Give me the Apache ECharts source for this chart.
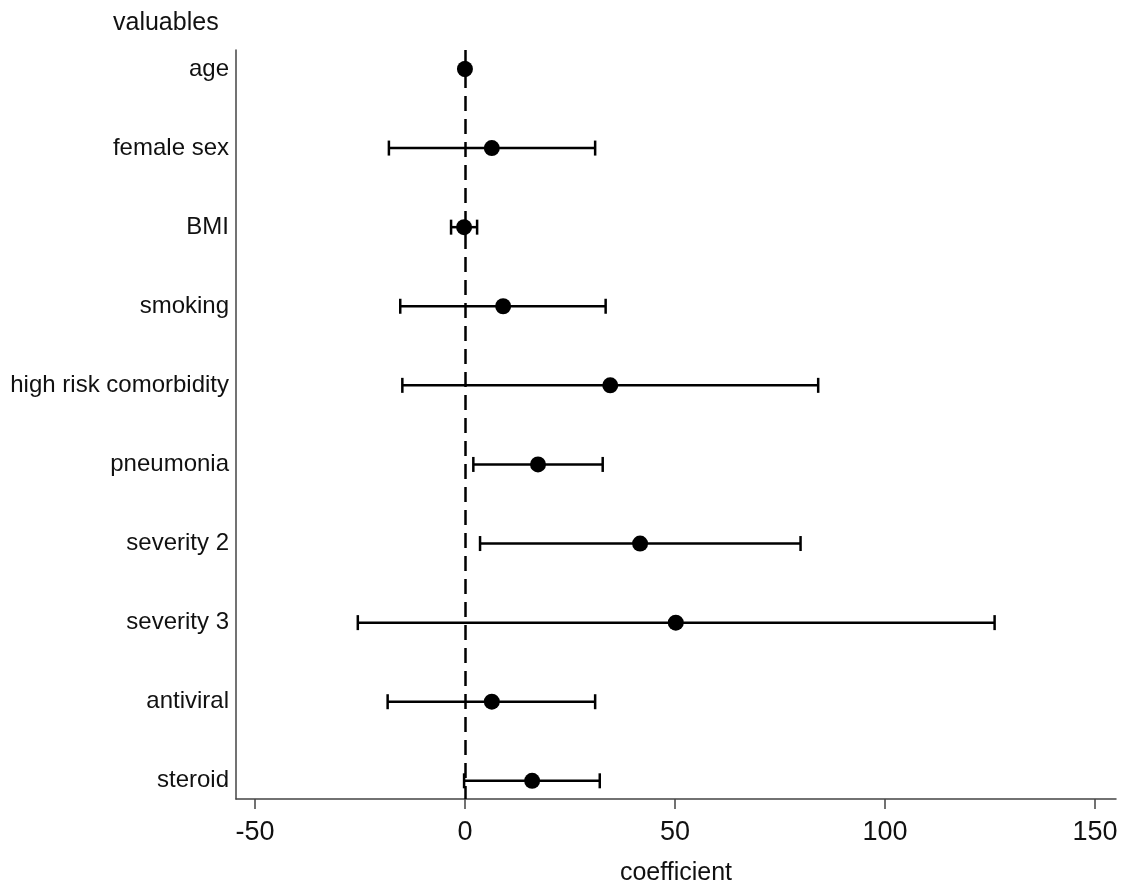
<!DOCTYPE html>
<html>
<head>
<meta charset="utf-8">
<script src="https://cdn.jsdelivr.net/npm/echarts@6/dist/echarts.min.js"></script>
<style>html,body{margin:0;padding:0;background:#fff}#chart{width:1130px;height:891px}</style>
</head>
<body>
<div id="chart"></div>
<script>
const categories = ['age','female sex','BMI','smoking','high risk comorbidity','pneumonia','severity 2','severity 3','antiviral','steroid'];
const coef  = [0.0, 6.4, -0.2, 9.1, 34.6, 17.4, 41.7, 50.2, 6.4, 16.0];
const lower = [-0.3, -18.1, -3.3, -15.4, -14.9, 2.0, 3.6, -25.5, -18.4, -0.2];
const upper = [0.3, 31.0, 2.9, 33.5, 84.1, 32.8, 79.9, 126.1, 31.0, 32.1];
const xTicks = [-50, 0, 50, 100, 150];

const FONT = '"Liberation Sans", Arial, Helvetica, sans-serif';
const chart = echarts.init(document.getElementById('chart'));

const ciData = categories.map((c, i) => [lower[i], upper[i], i + 1]);
const ptData = categories.map((c, i) => [coef[i], i + 1]);

chart.setOption({
  animation: false,
  backgroundColor: '#fff',
  textStyle: { fontFamily: FONT },
  title: {
    text: 'valuables',
    left: 108, top: 6,
    textStyle: { fontSize: 25, fontWeight: 'normal', color: '#111', fontFamily: FONT }
  },
  grid: { left: 236, right: 14, top: 50, bottom: 91, containLabel: false },
  xAxis: {
    type: 'value',
    min: -54.5, max: 155,
    name: 'coefficient',
    nameLocation: 'middle',
    nameGap: 62,
    nameTextStyle: { fontSize: 25, color: '#111', fontFamily: FONT },
    axisLine: { show: true, onZero: false, lineStyle: { color: '#444', width: 1.5 } },
    axisTick: { show: true, inside: false, length: 10, lineStyle: { color: '#444', width: 1.5 },
      customValues: xTicks },
    axisLabel: { fontSize: 27, color: '#111', margin: 20, fontFamily: FONT,
      customValues: xTicks },
    splitLine: { show: false }
  },
  yAxis: {
    type: 'value',
    inverse: true,
    min: 0.76, max: 10.23,
    splitNumber: 10,
    minInterval: 1,
    axisLine: { show: true, onZero: false, lineStyle: { color: '#444', width: 1.5 } },
    axisTick: { show: false },
    axisLabel: {
      fontSize: 24, color: '#111', margin: 7, fontFamily: FONT,
      formatter: v => (Math.abs(v - Math.round(v)) < 1e-6 && v >= 1 && v <= categories.length) ? categories[Math.round(v) - 1] : ''
    },
    splitLine: { show: false }
  },
  series: [
    {
      type: 'custom',
      name: 'CI',
      data: ciData,
      encode: { x: [0, 1], y: 2 },
      renderItem: function (params, api) {
        const y = api.value(2);
        const p1 = api.coord([api.value(0), y]);
        const p2 = api.coord([api.value(1), y]);
        const h = 7.5;
        const style = { stroke: '#000', lineWidth: 2.5 };
        return {
          type: 'group',
          children: [
            { type: 'line', shape: { x1: p1[0], y1: p1[1], x2: p2[0], y2: p2[1] }, style },
            { type: 'line', shape: { x1: p1[0], y1: p1[1] - h, x2: p1[0], y2: p1[1] + h }, style },
            { type: 'line', shape: { x1: p2[0], y1: p2[1] - h, x2: p2[0], y2: p2[1] + h }, style }
          ]
        };
      },
      z: 3
    },
    {
      type: 'scatter',
      name: 'coefficient',
      data: ptData,
      symbol: 'circle',
      symbolSize: 16,
      itemStyle: { color: '#000', opacity: 1 },
      z: 4,
      markLine: {
        silent: true,
        symbol: ['none', 'none'],
        label: { show: false },
        lineStyle: { color: '#000', type: [15, 8], width: 2.5 },
        data: [{ xAxis: 0 }]
      }
    }
  ]
});
</script>
</body>
</html>
